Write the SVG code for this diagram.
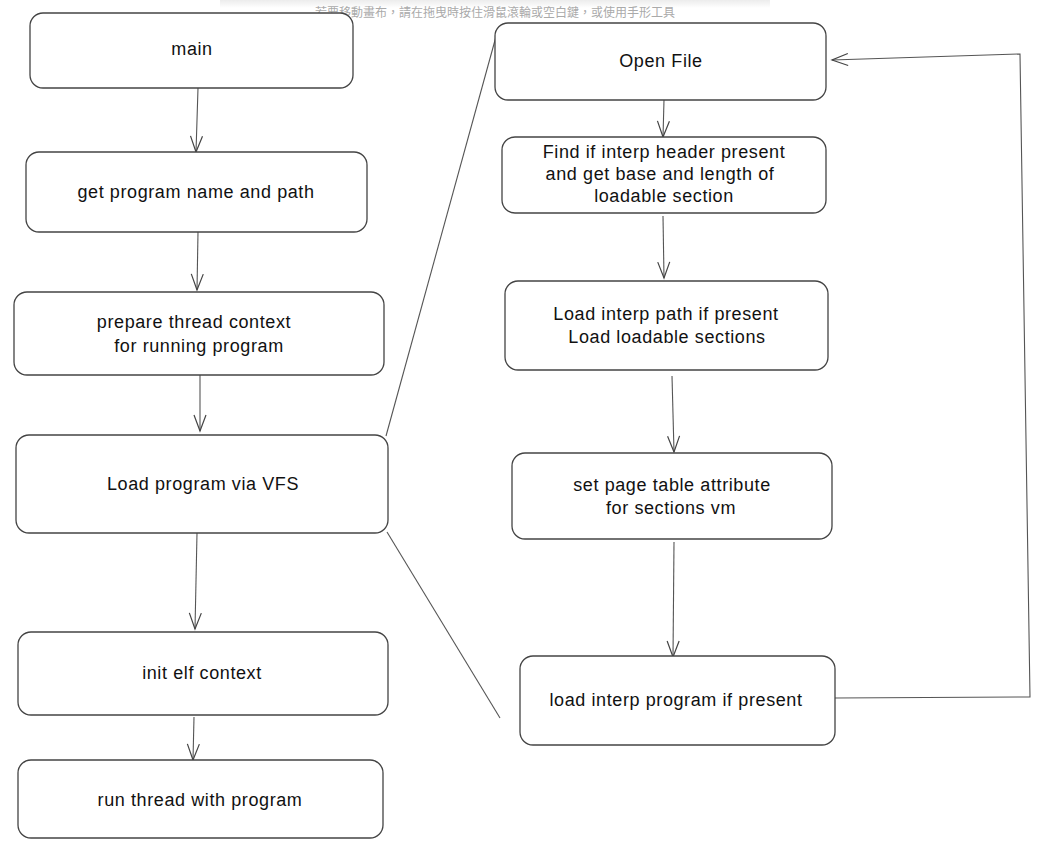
<svg xmlns="http://www.w3.org/2000/svg" width="1050" height="844" viewBox="0 0 1050 844">
<defs>
<marker id="arr" viewBox="0 0 20 20" refX="18" refY="10" markerWidth="20" markerHeight="20" markerUnits="userSpaceOnUse" orient="auto">
<path d="M2,4 L18,10 L2,16" fill="none" stroke="#444" stroke-width="1.2"/>
</marker>
<linearGradient id="shade" x1="0" y1="0" x2="0" y2="1">
<stop offset="0" stop-color="#ececec"/>
<stop offset="1" stop-color="#ffffff"/>
</linearGradient>
</defs>
<style>
.box{fill:#fff;stroke:#444;stroke-width:1.3}
.t{font-family:"Liberation Sans",Arial,sans-serif;font-size:18px;letter-spacing:0.6px;fill:#111;text-anchor:middle}
.c{fill:none;stroke:#555;stroke-width:1.1}
.hint{font-family:"Noto Sans CJK TC","Noto Sans CJK SC",sans-serif;font-size:12px;fill:#aaa;text-anchor:middle}
</style>
<rect width="1050" height="844" fill="#fff"/>
<rect x="220" y="0" width="550" height="8" fill="url(#shade)"/>
<text class="hint" x="495" y="17">若要移動畫布，請在拖曳時按住滑鼠滾輪或空白鍵，或使用手形工具</text>

<g id="connectors">
<line class="c" x1="198" y1="88" x2="196" y2="152" marker-end="url(#arr)"/>
<line class="c" x1="198" y1="232" x2="197" y2="290" marker-end="url(#arr)"/>
<line class="c" x1="200" y1="375" x2="200" y2="431" marker-end="url(#arr)"/>
<line class="c" x1="197" y1="533" x2="195" y2="629" marker-end="url(#arr)"/>
<line class="c" x1="194" y1="717" x2="193" y2="760" marker-end="url(#arr)"/>
<line class="c" x1="664" y1="100" x2="663" y2="137" marker-end="url(#arr)"/>
<line class="c" x1="663" y1="216" x2="664" y2="278" marker-end="url(#arr)"/>
<line class="c" x1="672" y1="376" x2="674" y2="452" marker-end="url(#arr)"/>
<line class="c" x1="674" y1="542" x2="673" y2="657" marker-end="url(#arr)"/>
<polyline class="c" points="835,698 1030,697 1020,54 832,60" marker-end="url(#arr)"/>
<line class="c" x1="386" y1="436" x2="497" y2="33"/>
<line class="c" x1="387" y1="532" x2="500" y2="718"/>
</g>

<g id="main"><rect class="box" x="30" y="13" width="323" height="75" rx="13"/><text class="t" x="192" y="55">main</text></g>
<g id="get-name"><rect class="box" x="26" y="152" width="341" height="80" rx="13"/><text class="t" x="196" y="198">get program name and path</text></g>
<g id="prepare"><rect class="box" x="14" y="292" width="370" height="83" rx="13"/><text class="t" x="194" y="328">prepare thread context</text><text class="t" x="199" y="352">for running program</text></g>
<g id="load-vfs"><rect class="box" x="16" y="435" width="372" height="98" rx="13"/><text class="t" x="203" y="490">Load program via VFS</text></g>
<g id="init-elf"><rect class="box" x="18" y="632" width="370" height="83" rx="13"/><text class="t" x="202" y="679">init elf context</text></g>
<g id="run-thread"><rect class="box" x="18" y="760" width="365" height="78" rx="13"/><text class="t" x="200" y="806">run thread with program</text></g>

<g id="open-file"><rect class="box" x="495" y="23" width="331" height="77" rx="13"/><text class="t" x="661" y="67">Open File</text></g>
<g id="find-interp"><rect class="box" x="502" y="137" width="324" height="76" rx="13"/><text class="t" x="664" y="158">Find if interp header present</text><text class="t" x="660" y="180">and get base and length of</text><text class="t" x="664" y="202">loadable section</text></g>
<g id="load-interp-path"><rect class="box" x="505" y="281" width="323" height="89" rx="13"/><text class="t" x="666" y="320">Load interp path if present</text><text class="t" x="667" y="343">Load loadable sections</text></g>
<g id="set-page"><rect class="box" x="512" y="453" width="320" height="86" rx="13"/><text class="t" x="672" y="491">set page table attribute</text><text class="t" x="671" y="514">for sections vm</text></g>
<g id="load-interp-prog"><rect class="box" x="520" y="656" width="315" height="89" rx="13"/><text class="t" x="676" y="706">load interp program if present</text></g>
</svg>
